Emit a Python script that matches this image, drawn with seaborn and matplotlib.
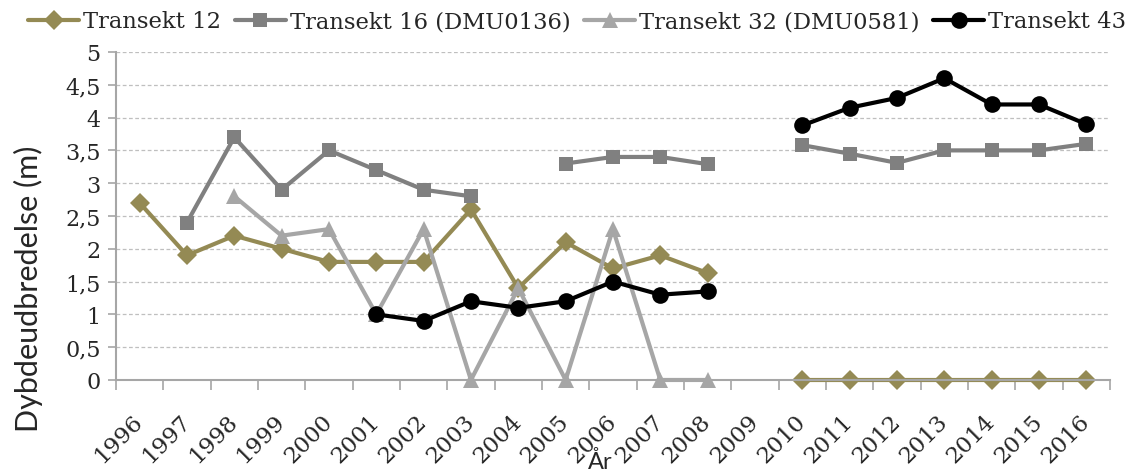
import numpy as np
import pandas as pd
import seaborn as sns
from matplotlib import pyplot as plt
from matplotlib import transforms

years = [str(y) for y in range(1996, 2017)]
t12 = [2.7, 1.9, 2.2, 2.0, 1.8, 1.8, 1.8, 2.6, 1.4, 2.1, 1.7, 1.9, 1.63, None,
       0, 0, 0, 0, 0, 0, 0]
t16 = [None, 2.4, 3.7, 2.9, 3.5, 3.2, 2.9, 2.8, None, 3.3, 3.4, 3.4, 3.29, None,
       3.58, 3.45, 3.31, 3.5, 3.5, 3.5, 3.6]
t32 = [None, None, 2.8, 2.2, 2.3, 1.0, 2.3, 0, 1.4, 0, 2.3, 0, 0, None,
       None, None, None, None, None, None, None]
t43 = [None, None, None, None, None, 1.0, 0.9, 1.2, 1.1, 1.2, 1.5, 1.3, 1.35, None,
       3.88, 4.15, 4.3, 4.6, 4.2, 4.2, 3.9]

names = ["Transekt 12", "Transekt 16 (DMU0136)", "Transekt 32 (DMU0581)", "Transekt 43"]
colors = ["#948A54", "#808080", "#A6A6A6", "#000000"]
markers = ["D", "s", "^", "o"]
msizes = [10, 10.5, 11, 12]

# long table, one segment id per unbroken run so gaps stay open
rows = []
for name, vals in zip(names, [t12, t16, t32, t43]):
    seg = 0
    for i, v in enumerate(vals):
        if v is None:
            seg += 1
            continue
        rows.append({"series": name, "pos": i, "value": v, "seg": seg})
df = pd.DataFrame(rows)

sns.set_style("white")
serif = ["DejaVu Serif"]
fig = plt.figure(figsize=(11.28, 4.77), dpi=100)
ax = fig.add_axes([0.1028, 0.2013, 0.8812, 0.6876])

for name, c, m, ms in zip(names, colors, markers, msizes):
    sub = df[df["series"] == name]
    sns.lineplot(data=sub, x="pos", y="value", units="seg", estimator=None,
                 color=c, marker=m, markersize=ms, markeredgewidth=0,
                 linewidth=3, clip_on=False, ax=ax, legend=False)

ax.set_xlim(-0.5, len(years) - 0.5)
ax.set_ylim(0, 5)
yt = np.arange(0, 5.01, 0.5)
ax.set_yticks(yt)
ax.set_yticklabels([f"{v:g}".replace(".", ",") for v in yt], fontsize=16, family=serif)
ax.set_xticks(np.arange(-0.5, len(years), 1.0))
ax.set_xticklabels([])
ax.set_xticks(np.arange(len(years)), minor=True)
ax.set_xticklabels(years, minor=True, rotation=45, ha="right", va="center",
                   rotation_mode="anchor", fontsize=16.5, family=serif)
shift = transforms.ScaledTranslation(0.04, 0, fig.dpi_scale_trans)
for lab in ax.xaxis.get_minorticklabels():
    lab.set_transform(lab.get_transform() + shift)
ax.tick_params(axis="x", which="major", bottom=True, length=7, width=1.2,
               color="#A6A6A6", direction="out")
ax.tick_params(axis="x", which="minor", bottom=True, length=0, pad=27)
ax.tick_params(axis="y", left=True, length=6, width=1.2, color="#A6A6A6",
               direction="out", pad=5)

ax.yaxis.grid(True, linestyle=(0, (3, 2)), color="#BFBFBF", linewidth=0.9)
ax.set_axisbelow(True)
for s in ["top", "right"]:
    ax.spines[s].set_visible(False)
for s in ["left", "bottom"]:
    ax.spines[s].set_color("#A6A6A6")
    ax.spines[s].set_linewidth(1.5)

ax.set_xlabel("År", family="Lato", fontsize=17)
ax.set_ylabel("Dybdeudbredelse (m)", family="Lato", fontsize=22)
ax.xaxis.set_label_coords(0.487, -0.214)
ax.yaxis.set_label_coords(-0.073, 0.28)

handles = [plt.Line2D([], [], color=c, marker=m, markersize=ms, markeredgewidth=0, linewidth=3)
           for c, m, ms in zip(colors, markers, msizes)]
fig.legend(handles, names, loc="upper left", bbox_to_anchor=(0.017, 0.995), ncol=4,
           frameon=False, prop={"family": serif, "size": 16.3}, handlelength=2.25,
           handletextpad=0.18, columnspacing=0.6, borderaxespad=0)

fig.savefig("out.png", dpi=100)
